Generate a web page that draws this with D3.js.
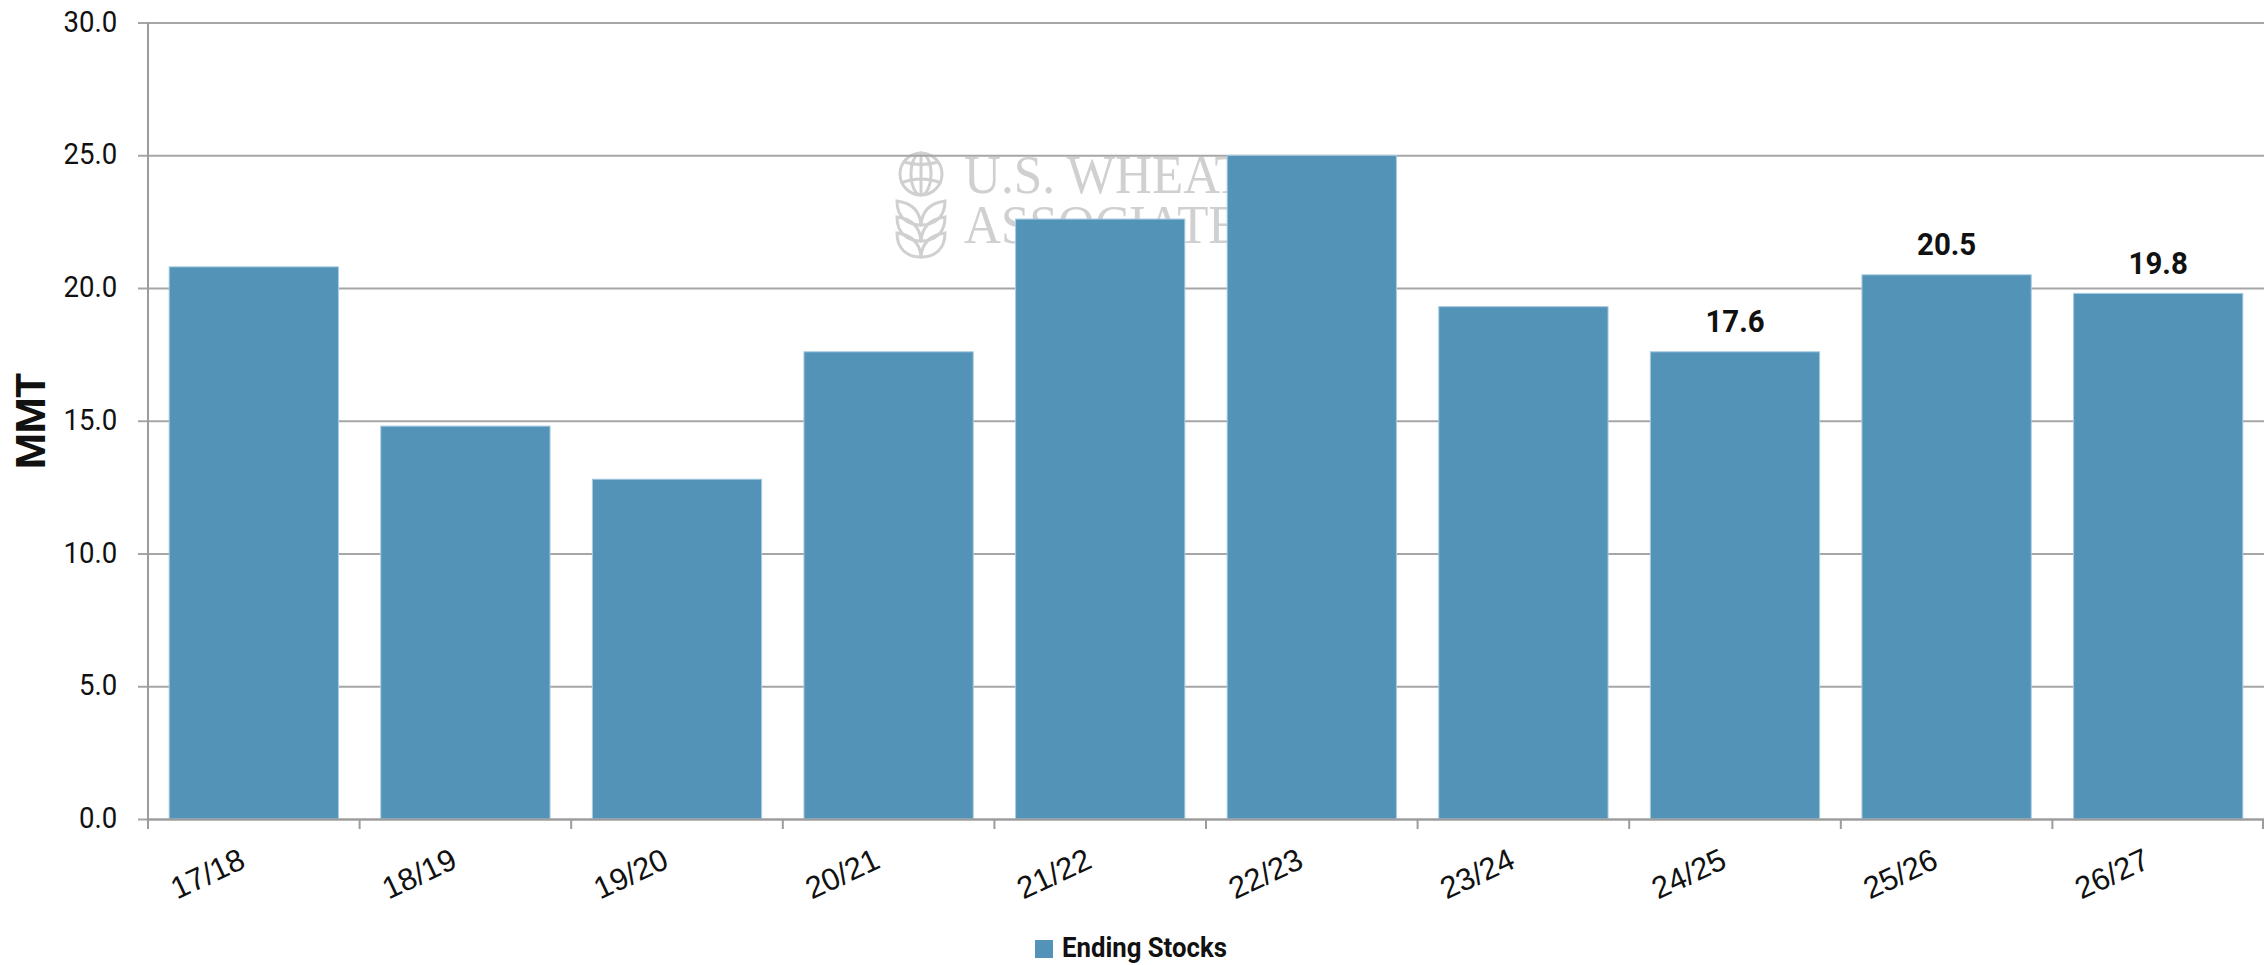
<!DOCTYPE html>
<html>
<head>
<meta charset="utf-8">
<script src="https://cdn.jsdelivr.net/npm/d3@7"></script>
<style>
  html, body { margin: 0; padding: 0; background: #ffffff; }
  svg { display: block; }
</style>
</head>
<body>
<svg id="chart" width="2264" height="965"></svg>
<script>
// Marketing years and ending stocks (MMT)
const years = ["17/18", "18/19", "19/20", "20/21", "21/22", "22/23", "23/24", "24/25", "25/26", "26/27"];
const endingStocks = [20.8, 14.8, 12.8, 17.6, 22.6, 25.0, 19.3, 17.6, 20.5, 19.8];
const labelledYears = ["24/25", "25/26", "26/27"];
const yTicks = [0, 5, 10, 15, 20, 25, 30];
const seriesName = "Ending Stocks";
const yTitle = "MMT";
const watermarkLines = ["U.S. WHEAT", "ASSOCIATES"];

const W = 2264, H = 965;
const margin = { top: 22.6, right: 0, bottom: 146, left: 148 };
const barColor = "#5393b8";
const gridColor = "#a6a6a6";
const axisColor = "#9c9c9c";
const condensed = 0.92;

const svg = d3.select("#chart");

const x = d3.scaleBand()
  .domain(years)
  .range([margin.left, W - margin.right])
  .paddingInner(0.2)
  .paddingOuter(0.1);

const y = d3.scaleLinear()
  .domain([0, 30])
  .range([H - margin.bottom, margin.top]);

// Watermark logo and name, sitting behind the grid and bars
const wm = svg.append("g").attr("class", "watermark");
const logo = wm.append("g")
  .attr("transform", "translate(895,152)")
  .attr("fill", "none")
  .attr("stroke", "#d0d0d0")
  .attr("stroke-width", 3);
logo.append("circle").attr("cx", 26).attr("cy", 22).attr("r", 21);
logo.append("ellipse").attr("cx", 26).attr("cy", 22).attr("rx", 10).attr("ry", 21);
logo.append("line").attr("x1", 26).attr("x2", 26).attr("y1", 1).attr("y2", 43);
logo.append("path").attr("d", "M9,10 Q26,15 43,10");
logo.append("path").attr("d", "M6,31 Q26,23 46,31");
[0, 1, 2].forEach(k => {
  const b = 59 + k * 16;
  logo.append("path").attr("d", `M26,${b + 14} C12,${b + 14} 2,${b + 6} 2,${b - 10} C16,${b - 8} 25,${b} 26,${b + 14} Z`);
  logo.append("path").attr("d", `M26,${b + 14} C40,${b + 14} 50,${b + 6} 50,${b - 10} C36,${b - 8} 27,${b} 26,${b + 14} Z`);
});
wm.append("text")
  .attr("transform", "translate(964,193) scale(0.93,1)")
  .attr("font-family", "'Liberation Serif', 'DejaVu Serif', serif")
  .attr("font-size", 55)
  .attr("fill", "#d0d0d0")
  .selectAll("tspan")
  .data(watermarkLines)
  .join("tspan")
  .attr("x", 0)
  .attr("y", (d, i) => i * 50)
  .text(d => d);

// Horizontal gridlines and y axis
const yAxis = d3.axisLeft(y)
  .tickValues(yTicks)
  .tickSize(-(W - margin.left - margin.right))
  .tickSizeOuter(0)
  .tickPadding(0)
  .tickFormat(d3.format(".1f"));

const gy = svg.append("g")
  .attr("transform", `translate(${margin.left},0)`)
  .call(yAxis);
gy.select(".domain").remove();
gy.selectAll(".tick line")
  .attr("stroke", gridColor)
  .attr("stroke-width", 2)
  .attr("x1", -10);
gy.selectAll(".tick text")
  .attr("x", null)
  .attr("dy", null)
  .attr("transform", `translate(-30.7,8.5) scale(${condensed},1)`)
  .attr("text-anchor", "end")
  .attr("font-family", "Roboto, 'Noto Sans', sans-serif")
  .attr("font-size", 30)
  .attr("fill", "#111");

// Bars
svg.append("g")
  .selectAll("rect")
  .data(years)
  .join("rect")
  .attr("x", d => x(d))
  .attr("width", x.bandwidth())
  .attr("y", (d, i) => y(endingStocks[i]))
  .attr("height", (d, i) => y(0) - y(endingStocks[i]))
  .attr("fill", barColor)
  .attr("stroke", "#a9cbe0")
  .attr("stroke-width", 1);

// Value labels on the latest years
svg.append("g")
  .selectAll("text")
  .data(years.map((d, i) => ({ year: d, value: endingStocks[i] })).filter(d => labelledYears.includes(d.year)))
  .join("text")
  .attr("transform", d => `translate(${x(d.year) + x.bandwidth() / 2},${y(d.value) - 19.5}) scale(${condensed},1)`)
  .attr("text-anchor", "middle")
  .attr("font-family", "Roboto, 'Noto Sans', sans-serif")
  .attr("font-weight", 700)
  .attr("font-size", 32)
  .attr("fill", "#111")
  .text(d => d.value.toFixed(1));

// Y axis line
svg.append("line")
  .attr("x1", margin.left).attr("x2", margin.left)
  .attr("y1", margin.top).attr("y2", y(0) + 10)
  .attr("stroke", axisColor)
  .attr("stroke-width", 2);

// X axis with category labels
const xAxis = d3.axisBottom(x).tickSize(0).tickSizeOuter(0);
const gx = svg.append("g")
  .attr("transform", `translate(0,${y(0)})`)
  .call(xAxis);
gx.select(".domain").attr("stroke", axisColor).attr("stroke-width", 2);
gx.selectAll(".tick text")
  .attr("y", null)
  .attr("dy", null)
  .attr("transform", "translate(-6.6,48) rotate(-25)")
  .attr("text-anchor", "end")
  .attr("font-family", "'Liberation Sans', Arial, sans-serif")
  .attr("font-size", 31)
  .attr("fill", "#111");

// Tick marks between categories
const step = x.step();
const boundaries = years.map(d => x(d) - step * x.paddingInner() / 2).concat([x(years[years.length - 1]) + x.bandwidth() + step * x.paddingInner() / 2 - 1]);
svg.append("g")
  .selectAll("line")
  .data(boundaries)
  .join("line")
  .attr("x1", d => d).attr("x2", d => d)
  .attr("y1", y(0)).attr("y2", y(0) + 10)
  .attr("stroke", axisColor)
  .attr("stroke-width", 2);

// Y axis title
svg.append("text")
  .attr("transform", `translate(45,${(y(0) + y(30)) / 2}) rotate(-90)`)
  .attr("text-anchor", "middle")
  .attr("font-family", "Roboto, 'Noto Sans', sans-serif")
  .attr("font-weight", 700)
  .attr("font-size", 41)
  .attr("fill", "#111")
  .text(yTitle);

// Legend
const legend = svg.append("g").attr("transform", "translate(1035,940)");
legend.append("rect")
  .attr("width", 18).attr("height", 18)
  .attr("fill", barColor);
legend.append("text")
  .attr("transform", `translate(27,17) scale(${condensed},1)`)
  .attr("font-family", "Roboto, 'Noto Sans', sans-serif")
  .attr("font-weight", 700)
  .attr("font-size", 28)
  .attr("fill", "#111")
  .text(seriesName);
</script>
</body>
</html>
